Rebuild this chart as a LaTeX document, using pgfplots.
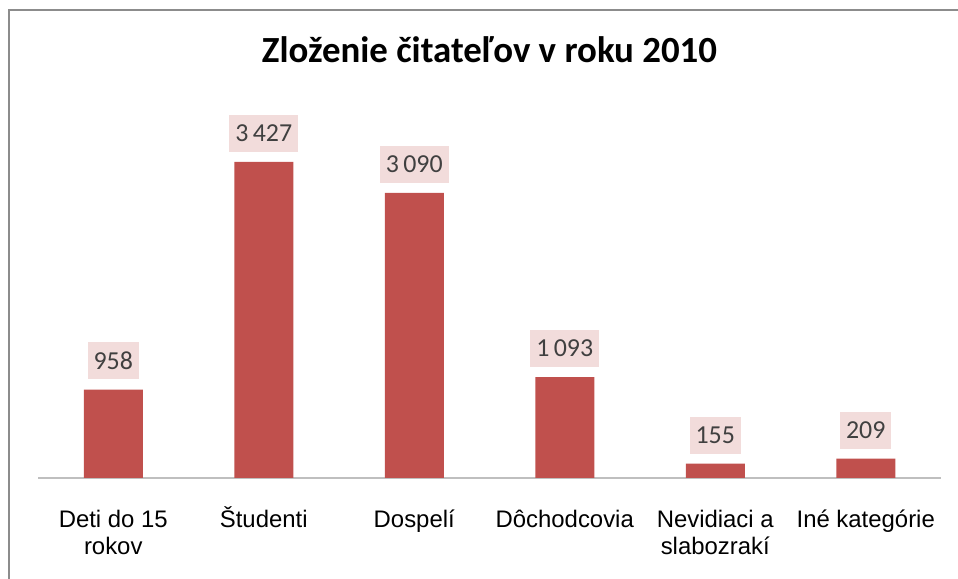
\documentclass[border=0pt]{standalone}
\usepackage{fontspec}
\setmainfont{Liberation Sans}
\newfontfamily\calibri{Carlito}
\usepackage{pgfplots}
\pgfplotsset{compat=1.18}
\definecolor{barred}{HTML}{C0504D}
\definecolor{labelbg}{HTML}{F2DCDB}
\definecolor{labeltext}{HTML}{404040}
\definecolor{baseline}{HTML}{BFBFBF}
\definecolor{frame}{HTML}{8C8C8C}
% same cap line for every first line of the category names
\newcommand\tl{\rule{0pt}{22bp}}

\begin{document}
\begin{tikzpicture}
\path[use as bounding box] (0,0) rectangle (958bp,579bp);
\draw[frame, line width=2bp] (9bp,0) -- (9bp,569bp) -- (958bp,569bp);
\begin{axis}[
    at={(38bp,101bp)}, anchor=south west,
    scale only axis,
    width=903bp, height=369bp,
    ybar, bar width=59bp,
    xmin=-0.5, xmax=5.5,
    ymin=0, ymax=4000,
    axis x line=bottom, axis y line=none,
    x axis line style={-, draw=baseline, line width=1.2bp},
    xtick={0,1,2,3,4,5},
    xticklabels={{\tl Deti do 15\\rokov}, \tl Študenti, \tl Dospelí, \tl Dôchodcovia, {\tl Nevidiaci a\\slabozrakí}, \tl Iné kategórie},
    xtick style={draw=none},
    x tick label style={font=\fontsize{24}{27}\selectfont, align=center, text=black, anchor=north, inner sep=0pt, yshift=-25bp},
    ytick=\empty,
    title={Zloženie čitateľov v roku 2010},
    title style={font=\calibri\bfseries\fontsize{37}{44}\selectfont, anchor=base, at={(0.5,1)}, yshift=41bp},
    nodes near coords={\pgfmathprintnumber[fixed, precision=0, 1000 sep={\,}, assume math mode=true]{\pgfplotspointmeta}},
    every node near coord/.append style={font=\calibri\fontsize{26}{31}\selectfont, text=labeltext, fill=labelbg, anchor=south, yshift=10bp, minimum height=37bp, inner xsep=6bp},
]
\addplot[fill=barred, draw=none] coordinates {(0,958) (1,3427) (2,3090) (3,1093) (4,155) (5,209)};
\end{axis}
\end{tikzpicture}
\end{document}
